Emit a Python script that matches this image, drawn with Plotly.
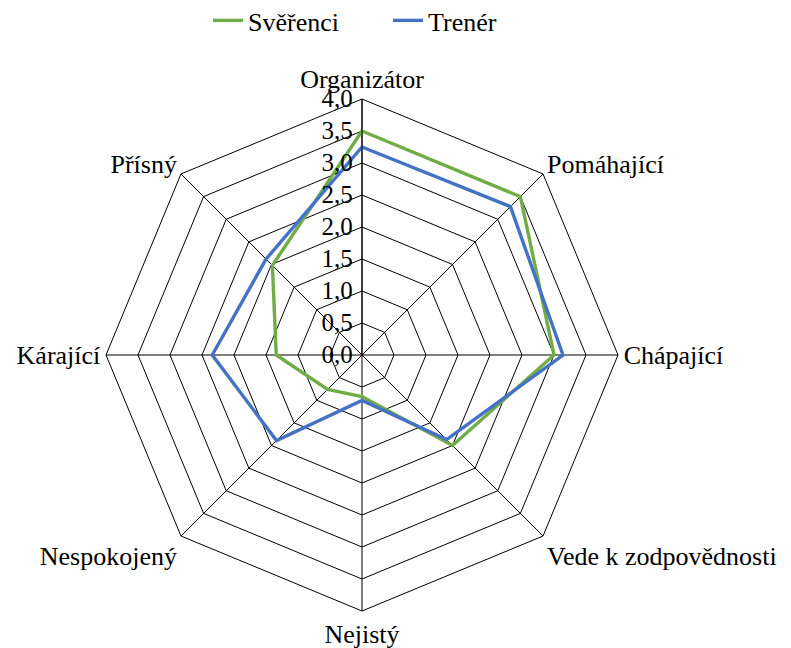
import plotly.graph_objects as go

categories = ["Organizátor", "Pomáhající", "Chápající", "Vede k zodpovědnosti",
              "Nejistý", "Nespokojený", "Kárající", "Přísný"]
sverenci = [3.5, 3.5, 3.0, 2.0, 0.65, 0.76, 1.34, 1.98]
trener = [3.25, 3.28, 3.14, 1.87, 0.71, 1.89, 2.34, 2.12]
tick_vals = [0, 0.5, 1, 1.5, 2, 2.5, 3, 3.5, 4]
tick_text = ["0,0", "0,5", "1,0", "1,5", "2,0", "2,5", "3,0", "3,5", "4,0"]

font_family = "Liberation Serif, Times New Roman, serif"

fig = go.Figure()
fig.add_trace(go.Scatterpolar(
    r=sverenci + sverenci[:1], theta=categories + categories[:1],
    mode="lines", name="Svěřenci",
    line=dict(color="#70AD47", width=3.4),
))
fig.add_trace(go.Scatterpolar(
    r=trener + trener[:1], theta=categories + categories[:1],
    mode="lines", name="Trenér",
    line=dict(color="#4472C4", width=3.4),
))

W, H = 791, 648
cx, cy, R = 354, 347, 256
fig.update_layout(
    width=W, height=H,
    margin=dict(l=0, r=0, t=0, b=0, autoexpand=False),
    paper_bgcolor="white", plot_bgcolor="white",
    font=dict(family=font_family, size=26, color="black"),
    showlegend=True,
    legend=dict(orientation="h", x=200 / W, xanchor="left",
                y=1.017, yanchor="top",
                entrywidth=135, entrywidthmode="pixels",
                bgcolor="rgba(0,0,0,0)",
                font=dict(size=26, family=font_family), traceorder="normal"),
    polar=dict(
        domain=dict(x=[(cx - R) / W, (cx + R) / W],
                    y=[(H - cy - R) / H, (H - cy + R) / H]),
        bgcolor="white",
        gridshape="linear",
        radialaxis=dict(
            range=[0, 4], tickvals=tick_vals, ticktext=tick_text,
            angle=90, tickangle=90, side="counterclockwise",
            showline=True, linecolor="black", linewidth=1,
            gridcolor="black", gridwidth=1, ticks="",
            tickfont=dict(size=25, family=font_family, color="black"),
        ),
        angularaxis=dict(
            rotation=90, direction="clockwise",
            showline=True, linecolor="black", linewidth=1,
            gridcolor="black", gridwidth=1, ticks="",
            tickfont=dict(size=26, family=font_family, color="black"),
        ),
    ),
)

fig.write_html("out.html")
